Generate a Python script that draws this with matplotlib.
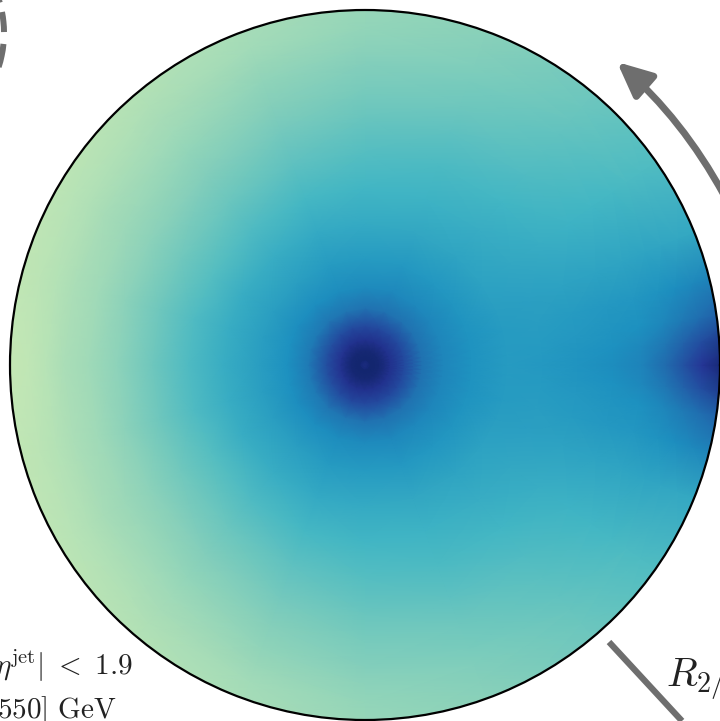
import matplotlib
matplotlib.use('Agg')
import matplotlib.pyplot as plt
import numpy as np
from matplotlib.patches import FancyArrowPatch, Arc

plt.rcParams['font.family'] = 'serif'
plt.rcParams['mathtext.fontset'] = 'cm'

# angles of the table rows (degrees from the right-hand direction, upper half, mirrored below)
theta_deg = [0, 4, 8, 14, 22, 35, 50, 70, 90, 110, 130, 150, 165, 180]
# radial positions of the table columns
radius = [0.0, 0.015, 0.04, 0.07, 0.11, 0.16, 0.22, 0.30, 0.40, 0.50, 0.60, 0.70, 0.78, 0.85, 0.90, 0.95, 1.06]

# colour values read along each ray (0 = darkest, 1 = lightest of YlGnBu_r)
density = [
    [0.10, 0.05, 0.06, 0.11, 0.19, 0.30, 0.35, 0.38, 0.41, 0.40, 0.385, 0.365, 0.34, 0.28, 0.21, 0.13, 0.00],
    [0.10, 0.05, 0.06, 0.11, 0.19, 0.30, 0.35, 0.38, 0.41, 0.405, 0.39, 0.375, 0.355, 0.31, 0.26, 0.20, 0.08],
    [0.10, 0.05, 0.06, 0.11, 0.19, 0.30, 0.35, 0.38, 0.41, 0.41, 0.40, 0.385, 0.375, 0.35, 0.32, 0.29, 0.22],
    [0.10, 0.05, 0.06, 0.11, 0.19, 0.30, 0.35, 0.38, 0.41, 0.415, 0.41, 0.40, 0.395, 0.38, 0.37, 0.355, 0.33],
    [0.10, 0.05, 0.06, 0.11, 0.19, 0.30, 0.35, 0.385, 0.415, 0.425, 0.43, 0.435, 0.44, 0.44, 0.445, 0.45, 0.46],
    [0.10, 0.05, 0.06, 0.11, 0.19, 0.30, 0.35, 0.39, 0.43, 0.45, 0.47, 0.49, 0.50, 0.51, 0.52, 0.525, 0.54],
    [0.10, 0.05, 0.06, 0.11, 0.19, 0.30, 0.355, 0.395, 0.44, 0.47, 0.50, 0.53, 0.55, 0.565, 0.575, 0.585, 0.60],
    [0.10, 0.05, 0.06, 0.11, 0.19, 0.30, 0.355, 0.40, 0.45, 0.49, 0.52, 0.56, 0.59, 0.61, 0.625, 0.635, 0.65],
    [0.10, 0.05, 0.06, 0.11, 0.19, 0.30, 0.36, 0.41, 0.46, 0.50, 0.54, 0.58, 0.61, 0.63, 0.645, 0.66, 0.675],
    [0.10, 0.05, 0.06, 0.11, 0.19, 0.31, 0.365, 0.41, 0.46, 0.51, 0.56, 0.605, 0.635, 0.655, 0.67, 0.685, 0.70],
    [0.10, 0.05, 0.06, 0.11, 0.20, 0.31, 0.37, 0.42, 0.47, 0.53, 0.585, 0.63, 0.66, 0.68, 0.695, 0.705, 0.725],
    [0.10, 0.05, 0.06, 0.12, 0.21, 0.32, 0.37, 0.42, 0.47, 0.54, 0.595, 0.645, 0.675, 0.695, 0.71, 0.72, 0.74],
    [0.10, 0.05, 0.06, 0.12, 0.21, 0.32, 0.375, 0.42, 0.47, 0.53, 0.59, 0.645, 0.68, 0.70, 0.715, 0.73, 0.745],
    [0.10, 0.05, 0.06, 0.12, 0.21, 0.32, 0.375, 0.42, 0.47, 0.53, 0.59, 0.65, 0.68, 0.70, 0.72, 0.735, 0.75],
]

theta_up = np.radians(theta_deg)
theta = np.concatenate((-theta_up[:0:-1], theta_up))
rows = np.array(density)
values = np.vstack((rows[:0:-1], rows))
rr, tt = np.meshgrid(radius, theta)

fig = plt.figure(figsize=(7.2, 7.21), dpi=100)

# main disc
ax = fig.add_axes([10 / 720, (721 - 720) / 721, 710 / 720, 710 / 721], projection='polar')
ax.pcolormesh(tt, rr, values, cmap='YlGnBu_r', vmin=0, vmax=1, shading='gouraud', rasterized=True)
ax.set_ylim(0, 1)
ax.set_xticks([])
ax.set_yticks([])
ax.grid(False)
ax.spines['polar'].set_linewidth(1.6)
ax.spines['polar'].set_clip_on(False)

# overlay in pixel coordinates for the annotations
over = fig.add_axes([0, 0, 1, 1], facecolor='none')
over.set_xlim(0, 720)
over.set_ylim(721, 0)
over.axis('off')
gray = '#6e6e6e'

# arrow on the upper right
over.add_patch(FancyArrowPatch((724, 195), (617, 62), connectionstyle='arc3,rad=0.09',
                               arrowstyle='-|>,head_length=13,head_width=6', mutation_scale=1.6,
                               color=gray, lw=5, shrinkA=0, shrinkB=0, clip_on=True))
# line on the lower right
over.plot([609, 682], [642, 721], color=gray, lw=4.5, solid_capstyle='butt')
# dashed circle cut by the corner
for t1, t2 in [(-18, -16), (-11, -0.5), (5.7, 18)]:
    over.add_patch(Arc((-106, 33), 220, 220, theta1=t1, theta2=t2, color=gray, lw=4.3, capstyle='butt'))

over.text(666, 686, r'$R_{2/}$', fontsize=29, color='#222222', va='baseline', ha='left', clip_on=True)
over.text(132, 675, r'$\eta^{\mathrm{jet}}|\ <\ 1.9$', fontsize=21, color='#222222', ha='right', va='baseline')
over.text(116, 718, r'$550]\ \mathrm{GeV}$', fontsize=21, color='#222222', ha='right', va='baseline')

plt.savefig('out.png', dpi=100)
